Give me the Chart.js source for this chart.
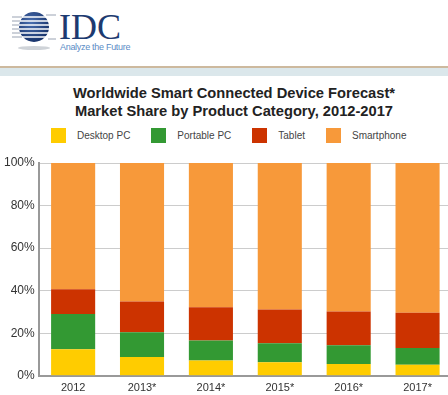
<!DOCTYPE html>
<html lang="en">
<head>
    <meta charset="UTF-8">
    <title>Smart Connected Device Forecast</title>
    <script src="https://cdn.jsdelivr.net/npm/chart.js@4"></script>
    <style>
        body { margin: 0; width: 448px; height: 395px; overflow: hidden; background: #fff; font-family: Arial, "Liberation Sans", sans-serif; position: relative; }
        #logo { position: absolute; left: 0; top: 0; }
        #rule { position: absolute; left: 0; top: 66px; width: 448px; height: 2px; background: #cdb99e; }
        #band { position: absolute; left: 0; top: 68px; width: 448px; height: 8px; background: #dbe7eb; }
        #title { position: absolute; left: 0; top: 84px; width: 468px; text-align: center; font: bold 14.7px/18px Arial, "Liberation Sans", sans-serif; color: #222; }
        #legend { position: absolute; left: 51px; top: 128px; display: flex; align-items: center; font-size: 10px; color: #444; }
        #legend .item { display: flex; align-items: center; margin-right: 21px; }
        #legend .box { width: 15px; height: 15px; margin-right: 11px; }
        #chartWrap { position: absolute; left: 0; top: 150px; width: 452px; height: 251px; }
    </style>
</head>
<body>
    <svg id="logo" width="150" height="60">
        <defs>
            <radialGradient id="g" cx="40%" cy="35%" r="70%">
                <stop offset="0" stop-color="#4a6fb0"/>
                <stop offset="1" stop-color="#142f66"/>
            </radialGradient>
        </defs>
        <ellipse cx="34" cy="48" rx="16" ry="2" fill="#cfd3d8"/>
        <circle cx="34" cy="27" r="15" fill="url(#g)"/>
        <g stroke="#fff" stroke-width="1.3">
            <line x1="18" y1="17" x2="52" y2="17"/>
            <line x1="18" y1="21" x2="52" y2="21"/>
            <line x1="18" y1="25" x2="52" y2="25"/>
            <line x1="18" y1="29" x2="52" y2="29"/>
            <line x1="18" y1="33" x2="52" y2="33"/>
            <line x1="18" y1="37" x2="52" y2="37"/>
        </g>
        <g stroke="#9aa3b3" stroke-width="1">
            <line x1="12" y1="17" x2="22" y2="17"/>
            <line x1="12" y1="21" x2="20" y2="21"/>
            <line x1="12" y1="25" x2="19" y2="25"/>
            <line x1="12" y1="29" x2="19" y2="29"/>
            <line x1="12" y1="33" x2="20" y2="33"/>
            <line x1="12" y1="37" x2="22" y2="37"/>
            <line x1="46" y1="15" x2="56" y2="15"/>
            <line x1="48" y1="39" x2="56" y2="39"/>
        </g>
        <text x="59" y="39" font-family="'Liberation Serif', 'DejaVu Serif', serif" font-size="36" fill="#1d3a70">IDC</text>
        <text x="60" y="50" font-family="Arial, 'Liberation Sans', sans-serif" font-size="9" fill="#5b8cc6" letter-spacing="-0.3">Analyze the Future</text>
    </svg>
    <div id="rule"></div>
    <div id="band"></div>

    <div id="title">Worldwide Smart Connected Device Forecast*<br>Market Share by Product Category, 2012-2017</div>
    <div id="legend"></div>

    <div id="chartWrap">
        <canvas id="myChart"></canvas>
    </div>

    <script>
        // Datos del gráfico
        const years = ['2012', '2013*', '2014*', '2015*', '2016*', '2017*'];
        const seriesNames = ['Desktop PC', 'Portable PC', 'Tablet', 'Smartphone'];
        const seriesColors = ['#ffcc00', '#339933', '#cc3300', '#f7993a'];
        const desktopPC = [12.5, 8.8, 7.2, 6.4, 5.6, 5.2];
        const portablePC = [16.6, 11.7, 9.4, 8.9, 8.8, 7.9];
        const tablet = [11.6, 14.4, 15.6, 15.8, 15.8, 16.5];
        const smartphone = [59.3, 65.1, 67.8, 68.9, 69.8, 70.4];
        const yTicks = [0, 20, 40, 60, 80, 100];

        const seriesValues = [desktopPC, portablePC, tablet, smartphone];

        // Leyenda
        const legend = document.getElementById('legend');
        seriesNames.forEach((name, i) => {
            const item = document.createElement('div');
            item.className = 'item';
            item.innerHTML = `<span class="box" style="background:${seriesColors[i]}"></span><span>${name}</span>`;
            legend.appendChild(item);
        });

        const config = {
            type: 'bar',
            data: {
                labels: years,
                datasets: seriesNames.map((name, i) => ({
                    label: name,
                    data: seriesValues[i],
                    backgroundColor: seriesColors[i],
                    borderWidth: 0,
                    barPercentage: 0.64,
                    categoryPercentage: 1
                }))
            },
            options: {
                responsive: true,
                maintainAspectRatio: false,
                animation: false,
                layout: { padding: { left: 0, top: 13, right: 0, bottom: 0 } },
                plugins: {
                    legend: { display: false },
                    title: { display: false },
                    tooltip: { enabled: false }
                },
                scales: {
                    x: {
                        stacked: true,
                        grid: { display: false, drawTicks: false },
                        border: { color: '#999', width: 2 },
                        ticks: { color: '#333', font: { size: 11, family: 'Arial' }, padding: 6 }
                    },
                    y: {
                        stacked: true,
                        min: 0,
                        max: 100,
                        afterBuildTicks: axis => { axis.ticks = yTicks.map(v => ({ value: v })); },
                        grid: { color: '#cccccc', drawTicks: false },
                        border: { color: '#999', width: 2 },
                        ticks: { color: '#333', font: { size: 12, family: 'Arial' }, padding: 4, callback: v => v + '%' }
                    }
                }
            }
        };

        new Chart(document.getElementById('myChart'), config);
    </script>
</body>
</html>
